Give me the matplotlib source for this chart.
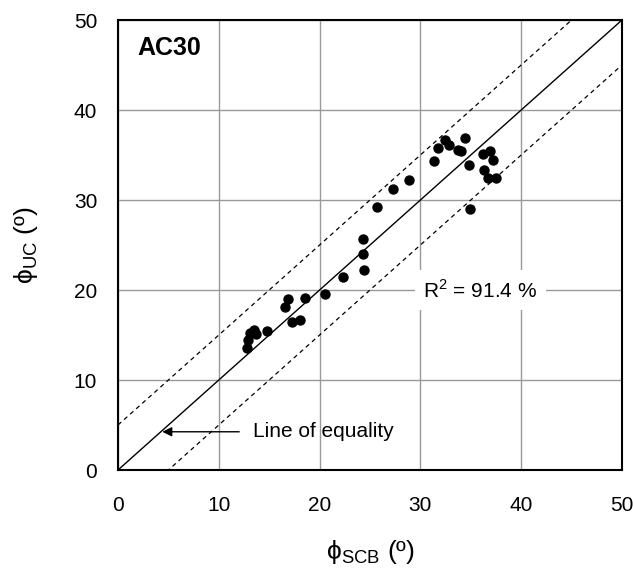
import matplotlib
matplotlib.use("Agg")
import matplotlib.pyplot as plt
import numpy as np

# valores
phi_scb = [32.4, 32.8, 31.7, 34.4, 33.7, 34.0, 31.4, 34.8, 36.2, 36.9, 37.2, 36.3,
           36.7, 37.5, 34.9, 28.9, 27.3, 25.7, 24.3, 24.3, 24.4, 22.3, 20.5, 18.6,
           16.9, 16.6, 17.3, 18.1, 14.8, 13.5, 13.7, 13.1, 12.9, 12.8]
phi_uc = [36.7, 36.1, 35.8, 36.9, 35.6, 35.4, 34.3, 33.9, 35.1, 35.4, 34.4, 33.3,
          32.5, 32.4, 29.0, 32.2, 31.2, 29.2, 25.7, 24.0, 22.2, 21.4, 19.6, 19.1,
          19.0, 18.1, 16.4, 16.7, 15.4, 15.6, 15.1, 15.2, 14.4, 13.6]
ticks = [0, 10, 20, 30, 40, 50]
faixa = 5
r2_texto = "R$^2$ = 91.4 %"

plt.rcParams['font.family'] = ['Liberation Sans', 'DejaVu Sans']
plt.rcParams['mathtext.fontset'] = 'custom'
plt.rcParams['mathtext.rm'] = 'Liberation Sans'

fig = plt.figure(figsize=(6.33, 5.7), dpi=100)
ax = fig.add_axes([0.1864, 0.1754, 0.7962, 0.7895])

linha = np.array([0, 50])
ax.plot(linha, linha, color='black', lw=1, zorder=2)
ax.plot(linha, linha + faixa, color='black', lw=0.9, ls=(0, (3.5, 3)), zorder=2)
ax.plot(linha, linha - faixa, color='black', lw=0.9, ls=(0, (3.5, 3)), zorder=2)

ax.scatter(phi_scb, phi_uc, s=42, color='black', zorder=3)

ax.set_xlim(0, 50)
ax.set_ylim(0, 50)
ax.set_xticks(ticks)
ax.set_yticks(ticks)
ax.tick_params(length=0, labelsize=15)
ax.tick_params(axis='x', pad=19)
ax.tick_params(axis='y', pad=15)
ax.grid(True, color='#999999', lw=1)
ax.set_axisbelow(True)
for s in ax.spines.values():
    s.set_linewidth(1.5)

ax.text(1.9, 46.9, "AC30", fontsize=18, fontweight='bold', va='center')
ax.text(30.3, 20, r2_texto, fontsize=15, va='center',
        bbox=dict(facecolor='white', edgecolor='none', pad=6), zorder=4)
ax.annotate("Line of equality", xy=(4.4, 4.25), xytext=(13.4, 4.25),
            fontsize=15, va='center',
            arrowprops=dict(arrowstyle='-|>', color='black', lw=1,
                            shrinkA=8, shrinkB=0, mutation_scale=14))

ax.set_xlabel(r"ϕ$_{\mathregular{SCB}}$ (º)", fontsize=19, labelpad=16)
ax.set_ylabel(r"ϕ$_{\mathregular{UC}}$ (º)", fontsize=19, labelpad=24)

fig.savefig("out.png", dpi=100)
